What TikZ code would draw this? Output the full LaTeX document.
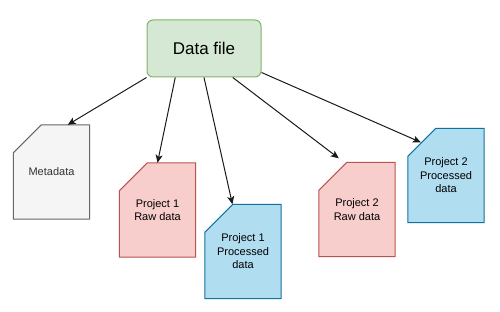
\documentclass[tikz,border=0pt]{standalone}
\usepackage{fontspec}
\setmainfont{Liberation Sans}
\usetikzlibrary{arrows.meta,calc,backgrounds}
\definecolor{gfill}{HTML}{D5E8D4}
\definecolor{gline}{HTML}{82B366}
\definecolor{rfill}{HTML}{F8CECC}
\definecolor{rline}{HTML}{B85450}
\definecolor{bfill}{HTML}{B1DDF0}
\definecolor{bline}{HTML}{10739E}
\definecolor{mfill}{HTML}{F5F5F5}
\definecolor{mline}{HTML}{666666}
\definecolor{mtext}{HTML}{333333}
\definecolor{arrcol}{HTML}{1A1A1A}
\begin{document}
\begin{tikzpicture}[x=1pt,y=-1pt,
  every node/.style={font=\fontsize{11}{13.5}\selectfont, align=center, inner sep=0pt},
  card/.style={rectangle, minimum width=76pt, minimum height=94pt},
  cardpath/.style={insert path={(#1.south west) -- ($(#1.north west)+(0,28)$) -- ($(#1.north west)+(28,0)$) -- (#1.north east) -- (#1.south east) -- cycle}},
  rawcard/.style={line width=1pt, draw=rline, fill=rfill},
  proccard/.style={line width=1pt, draw=bline, fill=bfill},
  metacard/.style={line width=1pt, draw=mline, fill=mfill},
  arr/.style={draw=arrcol, line width=1pt, -{Stealth[length=8pt,width=7pt,inset=2pt]}}]
\useasboundingbox (0,0) rectangle (500,312);
\node[rounded corners=6pt, draw=gline, fill=gfill, line width=1pt, minimum width=114pt, minimum height=57pt, font=\fontsize{17}{20}\selectfont] (data) at (204,48.5) {Data file};
\node[card, text=mtext] (meta) at (51.5,172) {Metadata};
\node[card] (p1raw) at (157.5,210) {Project 1\\Raw data};
\node[card] (p1proc) at (243,251.5) {Project 1\\Processed\\data};
\node[card] (p2raw) at (357,209.5) {Project 2\\Raw data};
\node[card] (p2proc) at (446,175.5) {Project 2\\Processed\\data};
\begin{scope}[on background layer]
\draw[metacard, cardpath=meta];
\draw[rawcard, cardpath=p1raw];
\draw[proccard, cardpath=p1proc];
\draw[rawcard, cardpath=p2raw];
\draw[proccard, cardpath=p2proc];
\end{scope}
\draw[arr] (data.south west) -- ($(meta.north east)+(-22,0)$);
\draw[arr] ($(data.south west)!0.25!(data.south east)$) -- (p1raw.north);
\draw[arr] (data.south) -- (p1proc);
\draw[arr] ($(data.south west)!0.75!(data.south east)$) -- ($(p2raw.north west)+(20,-4)$);
\draw[arr] ($(data.south east)+(0,-5)$) -- ($(p2proc.north west)+(13,14)$);
\end{tikzpicture}
\end{document}
